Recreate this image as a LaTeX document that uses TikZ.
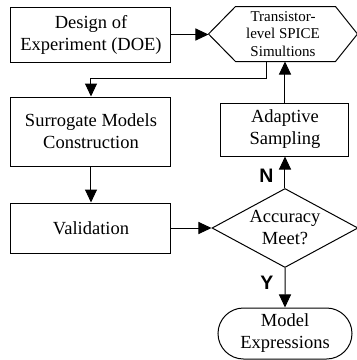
\documentclass[tikz,border=0pt]{standalone}
\usepackage{fontspec}
\setmainfont{Liberation Serif}
\newfontfamily\yesnofont{Liberation Sans}
\usetikzlibrary{arrows.meta,shapes.geometric,shapes.misc}

\tikzset{
  block/.style={draw, line width=1pt, align=center, inner sep=0pt,
    font=\fontsize{18.5}{22}\selectfont},
  arr/.style={line width=1pt, -{Triangle[length=13pt,width=12pt]}},
  yesno/.style={inner sep=0pt, font=\yesnofont\bfseries\fontsize{19.5}{20}\selectfont}
}

\begin{document}
\begin{tikzpicture}[x=1pt,y=-1pt]
        \useasboundingbox (0,0) rectangle (357,360);

        % Blocks
        \node[block, minimum width=160pt, minimum height=55pt] (doe) at (91,34.5) {Design of\\Experiment (DOE)};
        \node[block, draw=none, minimum width=148pt, minimum height=54pt,
              font=\fontsize{15}{17.5}\selectfont] (sim) at (283,34) {Transistor-\\level SPICE\\Simultions};
        \draw[line width=1pt] (sim.west) -- ([xshift=27pt]sim.north west) -- ([xshift=-22pt]sim.north east)
            -- (sim.east) -- ([xshift=-22pt]sim.south east) -- ([xshift=27pt]sim.south west) -- cycle;
        \node[block, minimum width=160pt, minimum height=69pt] (surr) at (91,131.5) {Surrogate Models\\Construction};
        \node[block, minimum width=160pt, minimum height=50pt] (val) at (91,228) {Validation};
        \node[block, minimum width=128pt, minimum height=53pt] (adapt) at (285,129.5) {Adaptive\\Sampling};
        \node[block, diamond, aspect=1.85, minimum width=146pt, minimum height=79pt] (acc) at (285,228) {Accuracy\\Meet?};
        \node[block, rounded rectangle, minimum width=134pt, minimum height=51pt] (expr) at (285,333.5) {Model\\Expressions};

        % Arrows
        \draw[arr] (doe.east) -- (doe.east -| sim.west);
        \draw[arr] ([xshift=-16pt]sim.south) -- ++(0,17) -| (surr.north);
        \draw[arr] (surr) -- (val);
        \draw[arr] (val) -- (acc);
        \draw[arr] (acc) -- node[yesno, pos=0.4, left=11pt] {N} (adapt);
        \draw[arr] (adapt.north) -- (adapt.north |- sim.south);
        \draw[arr] (acc) -- node[yesno, pos=0.375, left=11pt] {Y} (expr);

    \end{tikzpicture}
\end{document}
